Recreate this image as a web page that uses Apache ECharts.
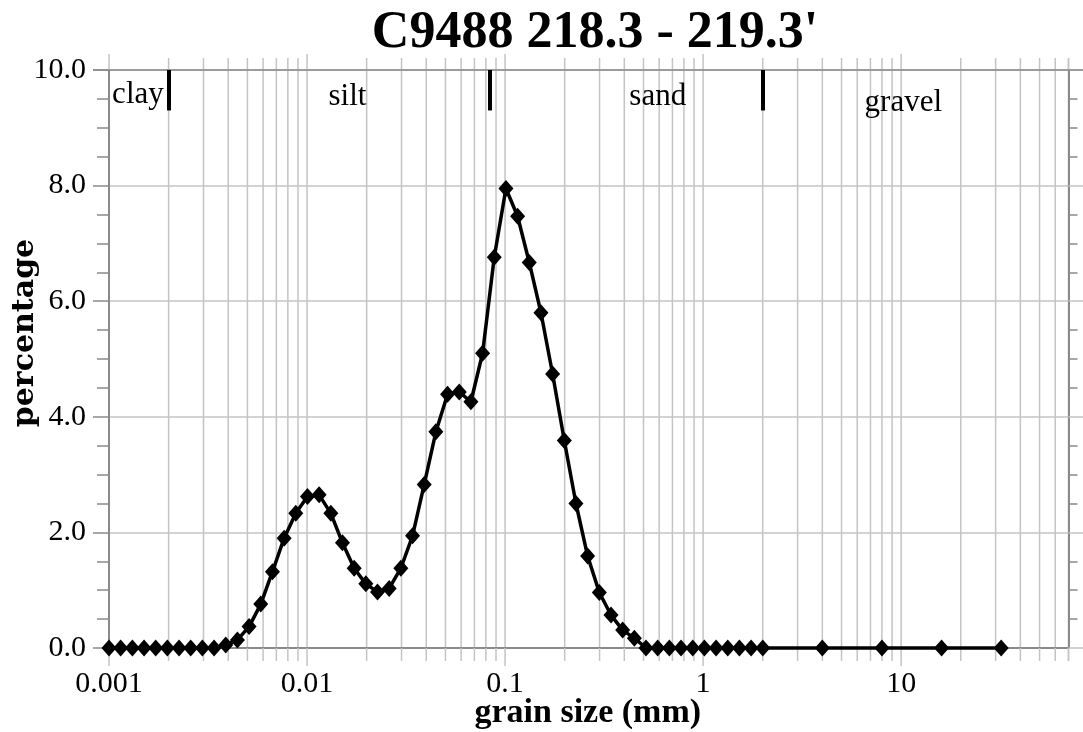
<!DOCTYPE html>
<html>
<head>
<meta charset="utf-8">
<script src="https://cdn.jsdelivr.net/npm/echarts@6/dist/echarts.min.js"></script>
<style>
  html, body { margin: 0; padding: 0; background: #ffffff; }
  #chart { width: 1083px; height: 732px; }
</style>
</head>
<body>
<div id="chart"></div>
<script>
// Grain-size distribution, sample C9488 218.3 - 219.3'
const chartTitle = "C9488 218.3 - 219.3'";
const xTitle = 'grain size (mm)';
const yTitle = 'percentage';

// grain size of each channel (mm)
const grainSize = [
  0.001, 0.001145, 0.001312, 0.001503, 0.001721, 0.001971, 0.002258, 0.002586, 0.002962, 0.003393,
  0.003886, 0.004451, 0.005098, 0.005840, 0.006689, 0.007661, 0.008775, 0.01005, 0.01151, 0.01319,
  0.01510, 0.01730, 0.01981, 0.02269, 0.02599, 0.02977, 0.03410, 0.03906, 0.04473, 0.05124,
  0.05869, 0.06722, 0.07699, 0.08818, 0.1010, 0.1157, 0.1325, 0.1518, 0.1738, 0.1991,
  0.2280, 0.2612, 0.2992, 0.3427, 0.3925, 0.4496, 0.5149, 0.5898, 0.6755, 0.7737,
  0.8862, 1.015, 1.163, 1.332, 1.525, 1.747, 2.001, 4, 8, 16, 32
];

// percentage in each channel
const percentage = [
  0, 0, 0, 0, 0, 0, 0, 0, 0, 0,
  0.05, 0.14, 0.37, 0.76, 1.32, 1.90, 2.33, 2.62, 2.65, 2.33,
  1.82, 1.38, 1.11, 0.97, 1.03, 1.38, 1.94, 2.83, 3.74, 4.39,
  4.43, 4.26, 5.10, 6.76, 7.95, 7.47, 6.67, 5.80, 4.74, 3.59,
  2.50, 1.59, 0.96, 0.57, 0.31, 0.17, 0, 0, 0, 0,
  0, 0, 0, 0, 0, 0, 0, 0, 0, 0, 0
];

// decade tick labels on the grain-size axis
const xTickLabels = ['0.001', '0.01', '0.1', '1', '10'];

// size classes and the boundaries between them (mm)
const classNames = ['clay', 'silt', 'sand', 'gravel'];
const classBounds = [0.002, 0.084, 2];

const X_MIN = 0.001, X_MAX = 70;
const Y_MIN = 0, Y_MAX = 10;

const serif = "'Liberation Serif', 'Times New Roman', serif";
const gridColor = '#c4c4c4';
const axisColor = '#8a8a8a';

const chart = echarts.init(document.getElementById('chart'), null, { renderer: 'canvas' });

const points = grainSize.map((g, i) => [g, percentage[i]]);

chart.setOption({
  animation: false,
  backgroundColor: '#ffffff',
  title: {
    text: chartTitle,
    left: 590,
    top: 3,
    textAlign: 'center',
    textStyle: { fontFamily: serif, fontWeight: 'bold', fontSize: 52, color: '#000' }
  },
  grid: { left: 109, top: 70, width: 959.5, height: 578, containLabel: false, outerBoundsMode: 'none' },
  xAxis: {
    type: 'log',
    logBase: 10,
    min: X_MIN,
    max: X_MAX,
    axisLine: { show: true, lineStyle: { color: axisColor, width: 2 } },
    axisTick: { show: false },
    splitLine: { show: false },
    axisLabel: {
      margin: 21,
      fontFamily: serif,
      fontSize: 30,
      color: '#000',
      showMinLabel: true,
      showMaxLabel: false,
      formatter: function (v) {
        const e = Math.log10(v);
        const r = Math.round(e);
        if (Math.abs(e - r) > 1e-6) return '';
        const idx = r + 3;
        return (idx >= 0 && idx < xTickLabels.length) ? xTickLabels[idx] : '';
      }
    }
  },
  yAxis: [
    {
      type: 'value',
      min: Y_MIN,
      max: Y_MAX,
      interval: 2,
      position: 'left',
      axisLine: { show: true, lineStyle: { color: axisColor, width: 2 } },
      axisTick: { show: true, length: 16, lineStyle: { color: axisColor, width: 1.5 } },
      minorTick: { show: true, splitNumber: 4, length: 12, lineStyle: { color: axisColor, width: 1.5 } },
      splitLine: { show: true, lineStyle: { color: gridColor, width: 1.5 } },
      axisLabel: {
        margin: 23,
        fontFamily: serif,
        fontSize: 30,
        color: '#000',
        formatter: v => v.toFixed(1)
      }
    },
    {
      type: 'value',
      min: Y_MIN,
      max: Y_MAX,
      interval: 2,
      position: 'right',
      axisLine: { show: true, lineStyle: { color: axisColor, width: 2 } },
      axisTick: { show: true, length: 15, lineStyle: { color: gridColor, width: 1.5 } },
      minorTick: { show: true, splitNumber: 4, length: 9, lineStyle: { color: axisColor, width: 1.5 } },
      splitLine: { show: false },
      axisLabel: { show: false }
    }
  ],
  series: [
    {
      type: 'line',
      data: points,
      clip: false,
      z: 5,
      symbol: 'diamond',
      symbolSize: [15, 17],
      itemStyle: { color: '#000' },
      lineStyle: { color: '#000', width: 3.5 },
      markLine: {
        silent: true,
        symbol: ['none', 'none'],
        label: { show: false },
        lineStyle: { color: '#000', width: 4, type: 'solid' },
        data: classBounds.map(b => [{ coord: [b, 10] }, { coord: [b, 9.3] }])
      }
    }
  ]
});

// Vertical grid lines at every 1..9 x decade, with ticks running outside the plot
function buildGraphics() {
  const els = [];
  const yTop = chart.convertToPixel({ yAxisIndex: 0 }, Y_MAX);
  const yBot = chart.convertToPixel({ yAxisIndex: 0 }, Y_MIN);
  const xLeft = chart.convertToPixel({ xAxisIndex: 0 }, X_MIN);
  const xRight = chart.convertToPixel({ xAxisIndex: 0 }, X_MAX);
  for (let e = -3; e <= 1; e++) {
    for (let m = 1; m <= 9; m++) {
      const v = m * Math.pow(10, e);
      if (v > X_MAX) continue;
      const x = chart.convertToPixel({ xAxisIndex: 0 }, v);
      const major = m === 1;
      const up = major ? 16 : 12;
      const down = major ? 18 : 13;
      const ls = { stroke: gridColor, lineWidth: 1.5 };
      // outside ticks above and below
      els.push({ type: 'line', silent: true, z: 1, shape: { x1: x, y1: yTop - up, x2: x, y2: yTop }, style: ls });
      els.push({ type: 'line', silent: true, z: 1, shape: { x1: x, y1: yBot, x2: x, y2: yBot + down }, style: ls });
      // inside grid line
      if (!(e === -3 && m === 1)) {
        els.push({ type: 'line', silent: true, z: 0, shape: { x1: x, y1: yTop, x2: x, y2: yBot }, style: ls });
      }
    }
  }
  // ticks at the right-hand edge of the axis
  els.push({ type: 'line', silent: true, z: 1, shape: { x1: xRight, y1: yTop - 12, x2: xRight, y2: yTop }, style: { stroke: gridColor, lineWidth: 1.5 } });
  els.push({ type: 'line', silent: true, z: 1, shape: { x1: xRight, y1: yBot, x2: xRight, y2: yBot + 13 }, style: { stroke: gridColor, lineWidth: 1.5 } });
  // top border extends a little past both axes
  els.push({ type: 'line', silent: true, z: 1, shape: { x1: xLeft - 16, y1: yTop, x2: 1083, y2: yTop }, style: { stroke: axisColor, lineWidth: 1.5 } });

  // size class names across the top of the plot
  const classAnchors = [[0.0014, 9.57], [0.016, 9.53], [0.59, 9.54], [10.26, 9.43]];
  classNames.forEach((name, i) => {
    const p = chart.convertToPixel({ xAxisIndex: 0, yAxisIndex: 0 }, classAnchors[i]);
    els.push({
      type: 'text', silent: true, z: 6,
      x: p[0], y: p[1],
      style: { text: name, fontFamily: serif, fontSize: 31, fill: '#000', align: 'center', verticalAlign: 'middle' }
    });
  });

  // x-axis title, centred under the plot
  els.push({
    type: 'text', silent: true, z: 6,
    x: (xLeft + xRight) / 2 - 1, y: yBot + 65,
    style: {
      text: xTitle, fontFamily: serif, fontWeight: 'bold', fontSize: 34,
      fill: '#000', align: 'center', verticalAlign: 'middle'
    }
  });

  // y-axis title
  els.push({
    type: 'text', silent: true, z: 6,
    x: 25, y: 333, rotation: Math.PI / 2,
    style: {
      text: yTitle, fontFamily: "'DejaVu Serif', serif", fontWeight: 'bold', fontSize: 30,
      fill: '#000', align: 'center', verticalAlign: 'middle'
    }
  });
  return els;
}

chart.setOption({ graphic: { elements: buildGraphics() } });
</script>
</body>
</html>
